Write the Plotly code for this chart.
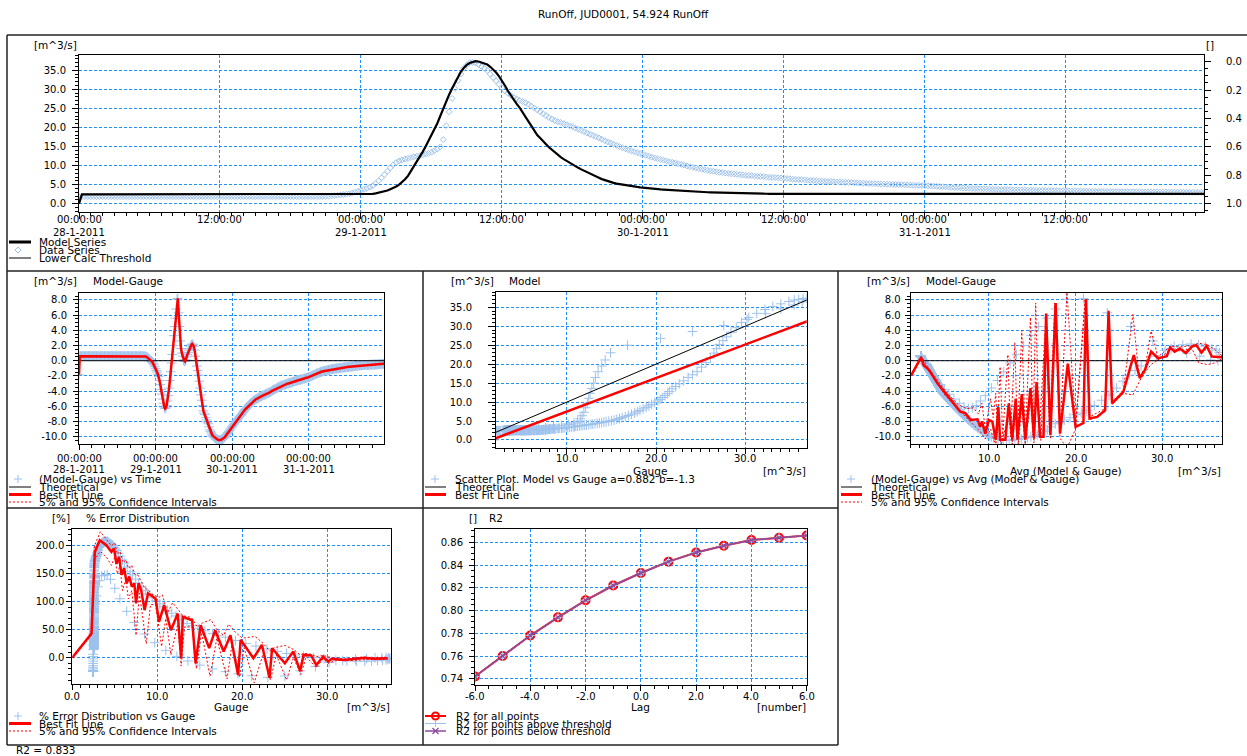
import pandas as pd
import plotly.graph_objects as go

W, H = 1247, 756
FONT = "DejaVu Sans"
TICK_SIZE = 10
LABEL_SIZE = 10.5
GRID = "#1E90FF"
LB = "#9EC2EC"
RED = "#FF0000"
PURPLE = "#8B4A9C"

title_text = "RunOff, JUD0001, 54.924 RunOff"

# ---------------- data (15-minute steps from 28-1-2011 00:00) ----------------
gauge_day1 = [
    1.85, 1.85, 1.85, 1.85, 1.85, 1.85, 1.85, 1.85, 1.85, 1.85, 1.85, 1.85, 1.85, 1.85, 1.85, 1.85,
    1.85, 1.85, 1.85, 1.85, 1.85, 1.85, 1.85, 1.85, 1.85, 1.85, 1.85, 1.85, 1.85, 1.85, 1.85, 1.85,
    1.85, 1.85, 1.85, 1.85, 1.85, 1.85, 1.85, 1.85, 1.85, 1.85, 1.85, 1.85, 1.85, 1.85, 1.85, 1.85,
    1.85, 1.85, 1.85, 1.85, 1.85, 1.85, 1.85, 1.85, 1.85, 1.85, 1.85, 1.85, 1.85, 1.85, 1.85, 1.85,
    1.85, 1.85, 1.85, 1.85, 1.85, 1.85, 1.85, 1.85, 1.85, 1.85, 1.85, 1.85, 1.85, 1.85, 1.85, 1.85,
    1.85, 1.86, 1.87, 1.88, 1.9, 1.96, 2.03, 2.1, 2.2, 2.3, 2.4, 2.5, 2.6, 2.8, 3.0, 3.25,
]
gauge_day2 = [
    3.5, 3.75, 4.0, 4.35, 4.7, 5.3, 6.0, 6.8, 7.6, 8.5, 9.4, 10.2,
    10.8, 11.2, 11.5, 11.7, 11.9, 12.1, 12.3, 12.45, 12.6, 12.8, 13.0, 13.2,
    13.5, 13.9, 14.3, 14.9, 16.8, 20.5, 24.1, 27.6, 30.2, 32.3, 34.0, 35.5,
    36.4, 37.0, 37.1, 36.9, 36.5, 36.0, 35.5, 34.9, 34.0, 33.1, 32.2, 31.3,
    30.4, 29.6, 29.0, 28.4, 27.9, 27.5, 27.1, 26.8, 26.5, 26.1, 25.6, 25.1,
    24.6, 24.1, 23.6, 23.1, 22.6, 22.2, 21.8, 21.5, 21.3, 21.0, 20.7, 20.45,
    20.2, 19.85, 19.5, 19.2, 18.9, 18.55, 18.2, 17.9, 17.6, 17.25, 16.9, 16.55,
    16.2, 15.9, 15.6, 15.3, 15.0, 14.7, 14.4, 14.15, 13.9, 13.65, 13.4, 13.15,
]
gauge_day3 = [
    12.9, 12.7, 12.45, 12.2, 12.0, 11.8, 11.6, 11.4, 11.2, 11.0, 10.85, 10.7,
    10.5, 10.3, 10.1, 9.9, 9.7, 9.55, 9.4, 9.2, 9.05, 8.9, 8.75, 8.6,
    8.5, 8.4, 8.25, 8.15, 8.05, 7.95, 7.85, 7.8, 7.7, 7.6, 7.55, 7.45,
    7.4, 7.35, 7.25, 7.2, 7.15, 7.1, 7.0, 6.95, 6.9, 6.85, 6.8, 6.75,
    6.7, 6.6, 6.55, 6.45, 6.4, 6.35, 6.3, 6.25, 6.2, 6.1, 6.05, 6.0,
    5.95, 5.9, 5.85, 5.8, 5.8, 5.75, 5.7, 5.7, 5.65, 5.6, 5.55, 5.55,
    5.5, 5.45, 5.4, 5.4, 5.35, 5.3, 5.25, 5.25, 5.2, 5.15, 5.15, 5.1,
    5.1, 5.05, 5.05, 5.0, 5.0, 4.95, 4.9, 4.9, 4.85, 4.8, 4.8, 4.75,
]
gauge_day4 = [
    4.73, 4.7, 4.65, 4.6, 4.55, 4.5, 4.45, 4.4, 4.35, 4.3, 4.25, 4.2,
    4.17, 4.13, 4.1, 4.05, 4.0, 3.97, 3.95, 3.92, 3.9, 3.87, 3.85, 3.82,
    3.8, 3.77, 3.75, 3.72, 3.7, 3.67, 3.65, 3.62, 3.6, 3.59, 3.58, 3.57,
    3.56, 3.54, 3.53, 3.51, 3.5, 3.48, 3.47, 3.45, 3.43, 3.42, 3.41, 3.4,
    3.39, 3.38, 3.36, 3.34, 3.33, 3.32, 3.31, 3.3, 3.28, 3.27, 3.25, 3.23,
    3.22, 3.21, 3.2, 3.18, 3.17, 3.16, 3.15, 3.14, 3.13, 3.12, 3.12, 3.11,
    3.1, 3.1, 3.09, 3.09, 3.08, 3.08, 3.07, 3.07, 3.06, 3.05, 3.05, 3.04,
    3.04, 3.03, 3.03, 3.02, 3.0, 2.99, 2.98, 2.98, 2.97, 2.96, 2.95, 2.95,
]

model_day1 = [
    0.0, 2.45, 2.45, 2.45, 2.45, 2.45, 2.45, 2.45, 2.45, 2.45, 2.45, 2.45, 2.45, 2.45, 2.45, 2.45,
    2.45, 2.45, 2.45, 2.45, 2.45, 2.45, 2.45, 2.45, 2.45, 2.45, 2.45, 2.45, 2.45, 2.45, 2.45, 2.45,
    2.45, 2.45, 2.45, 2.45, 2.45, 2.45, 2.45, 2.45, 2.45, 2.45, 2.45, 2.45, 2.45, 2.45, 2.45, 2.45,
    2.45, 2.45, 2.45, 2.45, 2.45, 2.45, 2.45, 2.45, 2.45, 2.45, 2.45, 2.45, 2.45, 2.45, 2.45, 2.45,
    2.45, 2.45, 2.45, 2.45, 2.45, 2.45, 2.45, 2.45, 2.45, 2.45, 2.45, 2.45, 2.45, 2.45, 2.45, 2.45,
    2.45, 2.45, 2.45, 2.45, 2.45, 2.45, 2.45, 2.45, 2.45, 2.45, 2.45, 2.45, 2.45, 2.45, 2.45, 2.45,
]
model_day2 = [
    2.45, 2.47, 2.5, 2.55, 2.6, 2.7, 2.85, 3.0, 3.2, 3.45, 3.8, 4.1,
    4.5, 5.0, 5.6, 6.4, 7.3, 8.5, 9.7, 11.0, 12.3, 13.6, 15.0, 16.5,
    18.0, 19.5, 21.1, 23.0, 25.0, 26.8, 28.6, 30.2, 31.8, 33.3, 34.6, 35.6,
    36.4, 36.9, 37.2, 37.4, 37.3, 37.1, 36.9, 36.5, 35.9, 35.2, 34.4, 33.4,
    32.3, 31.0, 29.6, 28.4, 27.2, 26.2, 25.2, 24.1, 22.9, 21.6, 20.4, 19.2,
    18.0, 17.2, 16.5, 15.6, 14.8, 14.1, 13.5, 12.8, 12.2, 11.7, 11.2, 10.7,
    10.3, 9.85, 9.4, 9.0, 8.6, 8.2, 7.8, 7.45, 7.1, 6.8, 6.45, 6.15,
    5.9, 5.65, 5.45, 5.25, 5.1, 4.95, 4.8, 4.7, 4.6, 4.5, 4.4, 4.3,
]
model_day3 = [
    4.2, 4.12, 4.05, 3.97, 3.9, 3.84, 3.77, 3.71, 3.65, 3.6, 3.55, 3.5,
    3.45, 3.4, 3.35, 3.3, 3.25, 3.2, 3.15, 3.1, 3.05, 3.03, 3.0, 2.98,
    2.95, 2.93, 2.9, 2.88, 2.85, 2.83, 2.8, 2.78, 2.75, 2.74, 2.72, 2.71,
    2.7, 2.68, 2.66, 2.65, 2.63, 2.62, 2.61, 2.6, 2.6, 2.59, 2.59, 2.58,
    2.57, 2.57, 2.57, 2.57, 2.57, 2.57, 2.57, 2.57, 2.56, 2.56, 2.56, 2.56,
    2.56, 2.56, 2.56, 2.56, 2.56, 2.56, 2.56, 2.56, 2.56, 2.56, 2.56, 2.56,
    2.55, 2.55, 2.55, 2.55, 2.55, 2.55, 2.55, 2.55, 2.55, 2.55, 2.55, 2.55,
    2.55, 2.55, 2.55, 2.55, 2.55, 2.55, 2.55, 2.55, 2.55, 2.55, 2.55, 2.55,
]
model_day4 = [
    2.55, 2.55, 2.55, 2.55, 2.55, 2.55, 2.55, 2.55, 2.55, 2.55, 2.55, 2.55, 2.55, 2.55, 2.55, 2.55,
    2.55, 2.55, 2.55, 2.55, 2.55, 2.55, 2.55, 2.55, 2.55, 2.55, 2.55, 2.55, 2.55, 2.55, 2.55, 2.55,
    2.55, 2.55, 2.55, 2.55, 2.55, 2.55, 2.55, 2.55, 2.55, 2.55, 2.55, 2.55, 2.55, 2.55, 2.55, 2.55,
    2.55, 2.55, 2.55, 2.55, 2.55, 2.55, 2.55, 2.55, 2.55, 2.55, 2.55, 2.55, 2.55, 2.55, 2.55, 2.55,
    2.55, 2.55, 2.55, 2.55, 2.55, 2.55, 2.55, 2.55, 2.55, 2.55, 2.55, 2.55, 2.55, 2.55, 2.55, 2.55,
    2.55, 2.55, 2.55, 2.55, 2.55, 2.55, 2.55, 2.55, 2.55, 2.55, 2.55, 2.55, 2.55, 2.55, 2.55, 2.55,
]

gauge = gauge_day1 + gauge_day2 + gauge_day3 + gauge_day4
model = model_day1 + model_day2 + model_day3 + model_day4
times = pd.date_range("2011-01-28 00:00", periods=len(gauge), freq="15min")

# derived series
diff = [m - g for m, g in zip(model, gauge)]
avg = [(m + g) / 2 for m, g in zip(model, gauge)]
pct_x = [m for m in model if m > 0]
pct_y = [(g - m) / m * 100 for m, g in zip(model, gauge) if m > 0]

# scatter best fit (from legend)
fit_a = 0.882
fit_b = -1.3

# Model-Gauge vs Avg : best fit and confidence lines
mr_fit_x = [1.07, 2.2, 2.5, 3.1, 4.1, 5.0, 6.0, 6.7, 7.3, 7.9, 8.7, 9.0, 9.2, 9.6, 10.0, 10.4, 10.8, 11.1,
            11.3, 11.9, 12.3, 12.7, 13.1, 13.3, 13.8, 14.2, 14.8, 15.2, 15.5, 15.9, 16.3, 16.6, 17.1, 17.7,
            18.2, 19.1, 20.0, 20.9, 21.2, 21.6, 22.5, 23.4, 23.8, 24.2, 25.5, 26.7, 27.4, 28.0, 28.7, 29.5,
            30.5, 30.9, 31.4, 32.0, 32.7, 33.4, 33.9, 34.5, 35.1, 35.7, 36.9]
mr_fit_y = [-1.9, 0.45, -0.6, -1.2, -3.0, -4.3, -5.6, -6.7, -6.9, -7.8, -7.7, -8.7, -8.0, -9.6, -7.8, -8.0, -10.4, -6.1,
            -10.4, -10.4, -5.6, -10.4, -5.0, -10.4, -4.4, -10.4, -3.6, -10.2, -2.8, -10.0, -10.0, 6.2, -9.8, 7.6,
            -9.6, -0.4, -8.7, -8.2, 8.1, -7.6, -7.4, -6.5, 6.5, -5.6, -4.1, 0.75, -2.3, -1.2, 1.2, 0.3,
            0.6, 1.75, 1.2, 1.6, 1.0, 1.85, 2.05, 1.05, 1.95, 0.55, 0.45]
mr_ci_up_x = [1.07, 2.2, 3.1, 5.0, 6.5, 7.5, 8.2, 8.8, 9.2, 9.6, 10.2, 10.5, 10.8, 11.0, 11.3, 11.6, 12.2, 12.5,
              13.0, 13.3, 13.8, 14.2, 14.8, 15.1, 15.4, 15.8, 16.6, 17.0, 17.6, 18.2, 19.0, 20.0, 21.1, 21.6,
              23.4, 23.8, 24.2, 25.5, 26.6, 27.3, 28.0, 28.7, 29.5, 30.9, 32.0, 33.4, 34.2, 35.2, 36.0, 36.9]
mr_ci_up_y = [-1.8, 0.6, -1.0, -4.0, -5.8, -6.3, -6.2, -7.0, -5.6, -9.0, -5.0, -7.5, -4.3, -9.5, -0.8, -10.0, 0.8, -10.0,
              2.4, -10.0, 4.0, -10.0, 5.7, -9.8, 7.6, -9.8, 6.2, -9.6, 7.6, -9.4, 9.0, -8.5, 8.2, -7.4,
              -6.3, 6.6, -5.4, -3.9, 6.1, -2.0, -1.0, 3.9, 0.5, 1.9, 1.8, 2.0, 2.3, 2.1, 1.5, 0.6]
mr_ci_lo_x = [1.07, 2.2, 3.1, 5.0, 6.5, 7.5, 8.2, 9.0, 9.6, 10.2, 10.8, 11.1, 11.4, 12.3, 12.7, 13.1, 13.4, 13.8,
              14.2, 14.8, 15.2, 15.5, 16.0, 16.6, 17.1, 17.7, 18.2, 19.0, 20.0, 21.1, 21.6, 23.4, 23.8, 24.2,
              25.5, 26.6, 27.4, 28.0, 28.7, 29.5, 30.9, 32.0, 33.4, 34.2, 35.2, 36.0, 36.9]
mr_ci_lo_y = [-2.0, 0.4, -1.4, -4.6, -6.4, -7.5, -8.4, -9.3, -10.3, -9.0, -11.2, -7.5, -11.2, -7.0, -11.0, -6.5, -11.0, -6.0,
              -11.0, -5.0, -10.8, -4.0, -10.5, 6.0, -10.3, 7.4, -10.2, -11.5, -9.0, 7.8, -7.8, -6.7, 6.2, -5.8,
              -4.3, -4.5, -2.6, -1.5, -0.5, 0.1, 1.5, 1.3, 1.6, -0.3, -0.5, -0.3, 0.3]

# % Error distribution : best fit and confidence lines
bl_fit_x = [0.0, 2.26, 2.65, 3.23, 4.0, 4.6, 4.9, 5.2, 5.5, 5.8, 6.1, 6.4, 6.7, 7.0, 7.3, 7.5, 7.8, 8.1, 8.5,
            8.9, 9.5, 9.8, 10.2, 10.8, 11.6, 12.4, 12.8, 13.0, 14.1, 14.5, 15.1, 16.1, 16.8, 17.8, 18.6,
            19.5, 19.8, 21.3, 22.3, 23.2, 23.5, 25.0, 26.0, 26.8, 27.2, 28.1, 28.7, 29.5, 30.1, 30.5, 32.0,
            33.6, 34.4, 35.5, 37.1]
bl_fit_y = [0, 43, 189, 210, 201, 189, 195, 168, 180, 148, 160, 133, 145, 127, 133, 97, 133, 121, 85,
            115, 109, 105, 64, 94, 49, 79, -1, 73, 67, -10, 58, 17, 49, 11, 40,
            -31, 32, -1, 23, -36, 17, -10, 11, -24, 5, 4, -13, 2, -7, -2, -4,
            -2, 0, -2, -1]
bl_ci_up_x = [0.0, 2.26, 2.6, 3.3, 4.0, 4.6, 5.0, 5.3, 5.6, 6.0, 6.3, 6.6, 7.0, 7.3, 7.7, 8.1, 8.5, 9.0, 9.5,
              10.2, 10.6, 11.2, 11.8, 12.5, 13.0, 14.0, 14.7, 15.3, 16.3, 17.0, 17.8, 18.4, 19.2, 20.0, 21.5,
              22.5, 23.2, 23.8, 25.0, 26.0, 26.8, 27.3, 28.1, 28.7, 29.5, 30.5, 32.0, 34.0, 35.5, 37.1]
bl_ci_up_y = [0, 45, 200, 225, 212, 200, 205, 185, 190, 170, 175, 160, 165, 150, 148, 135, 125, 120, 112,
              108, 112, 80, 98, 85, 75, 72, 55, 62, 68, 50, 40, 60, 45, 35, 38,
              25, 12, 18, 22, 15, 5, 8, 6, 2, 4, 0, -2, 1, 0, 1]
bl_ci_lo_x = [0.0, 2.26, 2.6, 3.3, 4.0, 4.6, 5.0, 5.3, 5.6, 5.9, 6.3, 6.6, 7.0, 7.5, 7.9, 8.3, 8.7, 9.2, 9.8,
              10.5, 11.0, 11.6, 12.4, 12.8, 13.2, 14.1, 14.6, 15.2, 16.2, 17.0, 18.2, 18.8, 19.7, 20.2, 21.4,
              22.5, 23.3, 24.0, 25.2, 26.0, 26.9, 27.5, 28.7, 29.5, 30.1, 31.0, 33.0, 35.0, 37.1]
bl_ci_lo_y = [0, 40, 175, 190, 180, 165, 180, 150, 165, 120, 140, 105, 120, 40, 115, 70, 25, 95, 95,
              20, 70, 5, 60, -15, 55, 55, -20, 45, -33, 35, -38, 25, -35, 18, -45,
              10, -40, 5, -40, 0, -30, 2, -18, -2, -10, -5, -5, -3, -3]

# R2 vs lag
r2_lag = [-6, -5, -4, -3, -2, -1, 0, 1, 2, 3, 4, 5, 6]
r2_all = [0.742, 0.760, 0.778, 0.794, 0.809, 0.822, 0.833, 0.843, 0.851, 0.857, 0.862, 0.864, 0.866]
r2_above = [0.742, 0.760, 0.778, 0.794, 0.809, 0.822, 0.833, 0.843, 0.851, 0.857, 0.862, 0.864, 0.866]
r2_below = [0.742, 0.760, 0.778, 0.794, 0.809, 0.822, 0.833, 0.843, 0.851, 0.857, 0.862, 0.864, 0.866]

# tick labels
top_tickvals = ["2011-01-28 00:00", "2011-01-28 12:00", "2011-01-29 00:00", "2011-01-29 12:00",
                "2011-01-30 00:00", "2011-01-30 12:00", "2011-01-31 00:00", "2011-01-31 12:00"]
top_tick_time = ["00:00:00", "12:00:00", "00:00:00", "12:00:00", "00:00:00", "12:00:00", "00:00:00", "12:00:00"]
top_tick_date = ["28-1-2011", "", "29-1-2011", "", "30-1-2011", "", "31-1-2011", ""]
day_tickvals = ["2011-01-28", "2011-01-29", "2011-01-30", "2011-01-31"]
day_tick_time = ["00:00:00", "00:00:00", "00:00:00", "00:00:00"]
day_tick_date = ["28-1-2011", "29-1-2011", "30-1-2011", "31-1-2011"]
frac_tickvals = [0.0, 0.2, 0.4, 0.6, 0.8, 1.0]
frac_ticktext = ["0.0", "0.2", "0.4", "0.6", "0.8", "1.0"]
diff_tickvals = [-10, -8, -6, -4, -2, 0, 2, 4, 6, 8]
diff_ticktext = ["-10.0", "-8.0", "-6.0", "-4.0", "-2.0", "0.0", "2.0", "4.0", "6.0", "8.0"]
flow_tickvals = [10, 20, 30]
flow_ticktext = ["10.0", "20.0", "30.0"]
err_x_tickvals = [0, 10, 20, 30]
err_x_ticktext = ["0.0", "10.0", "20.0", "30.0"]
lag_tickvals = [-6, -4, -2, 0, 2, 4, 6]
lag_ticktext = ["-6.0", "-4.0", "-2.0", "0.0", "2.0", "4.0", "6.0"]

# ---------------- helpers ----------------
def dx(a, b):
    return [a / W, b / W]

def dy(top, bottom):
    return [1 - bottom / H, 1 - top / H]

def axis(**kw):
    base = dict(showline=True, linecolor="black", linewidth=1, mirror=True, ticks="outside",
                ticklen=5, tickwidth=1, tickcolor="black", showgrid=True, gridcolor=GRID,
                griddash="3px,2px", gridwidth=1, zeroline=False, fixedrange=True, automargin=False,
                tickfont=dict(family=FONT, size=TICK_SIZE, color="black"))
    base.update(kw)
    return base

def minor(dtick, tick0=0, ln=3):
    return dict(ticks="outside", ticklen=ln, tickcolor="black", tickwidth=1, showgrid=False,
                tickmode="linear", dtick=dtick, tick0=tick0)

shapes = []
annotations = []

def seg(x0, y0, x1, y1, color="black", width=1, dash="solid"):
    shapes.append(dict(type="line", xref="paper", yref="paper", x0=x0 / W, x1=x1 / W,
                       y0=1 - y0 / H, y1=1 - y1 / H, line=dict(color=color, width=width, dash=dash)))

def plus_glyph(cx, cy, r, color):
    seg(cx - r, cy, cx + r, cy, color, 1)
    seg(cx, cy - r, cx, cy + r, color, 1)

def x_glyph(cx, cy, r, color):
    seg(cx - r, cy - r, cx + r, cy + r, color, 1.2)
    seg(cx - r, cy + r, cx + r, cy - r, color, 1.2)

def diamond_glyph(cx, cy, r, color):
    pts = [(cx, cy - r), (cx + r, cy), (cx, cy + r), (cx - r, cy)]
    p = "M " + " L ".join(f"{x / W:.5f},{1 - y / H:.5f}" for x, y in pts) + " Z"
    shapes.append(dict(type="path", xref="paper", yref="paper", path=p, line=dict(color=color, width=1)))

def circle_glyph(cx, cy, r, color):
    shapes.append(dict(type="circle", xref="paper", yref="paper", x0=(cx - r) / W, x1=(cx + r) / W,
                       y0=1 - (cy + r) / H, y1=1 - (cy - r) / H, line=dict(color=color, width=2)))

def label(x, y, text, anchor="left", size=LABEL_SIZE):
    annotations.append(dict(x=x / W, y=1 - y / H, xref="paper", yref="paper", text=text, showarrow=False,
                            xanchor=anchor, yanchor="middle", borderpad=0,
                            font=dict(family=FONT, size=size, color="black")))

def axis_label(xref, xval, y, text):
    if text:
        annotations.append(dict(x=xval, y=1 - y / H, xref=xref, yref="paper", text=text, showarrow=False,
                                xanchor="center", yanchor="middle", borderpad=0,
                                font=dict(family=FONT, size=TICK_SIZE, color="black")))

fig = go.Figure()

# ---------------- top panel ----------------
fig.add_trace(go.Scatter(x=times, y=gauge, mode="markers", xaxis="x", yaxis="y",
                         marker=dict(symbol="diamond-open", size=4.5, color=LB, line=dict(width=1, color=LB))))
fig.add_trace(go.Scatter(x=times, y=model, mode="lines", xaxis="x", yaxis="y",
                         line=dict(color="black", width=2.2)))
fig.add_trace(go.Scatter(x=[times[0]], y=[None], mode="lines", xaxis="x", yaxis="y2"))

# ---------------- middle-left : Model-Gauge vs time ----------------
fig.add_trace(go.Scatter(x=times, y=diff, mode="markers", xaxis="x3", yaxis="y3",
                         marker=dict(symbol="cross-thin-open", size=7, color=LB, line=dict(width=1, color=LB))))
fig.add_trace(go.Scatter(x=[times[0], times[-1]], y=[0, 0], mode="lines", xaxis="x3", yaxis="y3",
                         line=dict(color="black", width=1)))
fig.add_trace(go.Scatter(x=times, y=diff, mode="lines", xaxis="x3", yaxis="y3",
                         line=dict(color=RED, width=2.5)))

# ---------------- middle-center : scatter model vs gauge ----------------
g_min, g_max = min(gauge), max(gauge)
fig.add_trace(go.Scatter(x=gauge, y=model, mode="markers", xaxis="x4", yaxis="y4",
                         marker=dict(symbol="cross-thin-open", size=7, color=LB, line=dict(width=1, color=LB))))
fig.add_trace(go.Scatter(x=[g_min, g_max], y=[g_min, g_max], mode="lines", xaxis="x4", yaxis="y4",
                         line=dict(color="black", width=1)))
fig.add_trace(go.Scatter(x=[g_min, g_max], y=[fit_a * g_min + fit_b, fit_a * g_max + fit_b], mode="lines",
                         xaxis="x4", yaxis="y4", line=dict(color=RED, width=2.5)))

# ---------------- middle-right : Model-Gauge vs avg ----------------
fig.add_trace(go.Scatter(x=avg, y=diff, mode="markers", xaxis="x5", yaxis="y5",
                         marker=dict(symbol="cross-thin-open", size=7, color=LB, line=dict(width=1, color=LB))))
fig.add_trace(go.Scatter(x=[min(avg), max(avg)], y=[0, 0], mode="lines", xaxis="x5", yaxis="y5",
                         line=dict(color="black", width=1)))
fig.add_trace(go.Scatter(x=mr_ci_up_x, y=mr_ci_up_y, mode="lines", xaxis="x5", yaxis="y5",
                         line=dict(color=RED, width=1, dash="2px,2px")))
fig.add_trace(go.Scatter(x=mr_ci_lo_x, y=mr_ci_lo_y, mode="lines", xaxis="x5", yaxis="y5",
                         line=dict(color=RED, width=1, dash="2px,2px")))
fig.add_trace(go.Scatter(x=mr_fit_x, y=mr_fit_y, mode="lines", xaxis="x5", yaxis="y5",
                         line=dict(color=RED, width=2.5)))

# ---------------- bottom-left : % error ----------------
fig.add_trace(go.Scatter(x=pct_x, y=pct_y, mode="markers", xaxis="x6", yaxis="y6",
                         marker=dict(symbol="cross-thin-open", size=7, color=LB, line=dict(width=1, color=LB))))
fig.add_trace(go.Scatter(x=bl_ci_up_x, y=bl_ci_up_y, mode="lines", xaxis="x6", yaxis="y6",
                         line=dict(color=RED, width=1, dash="2px,2px")))
fig.add_trace(go.Scatter(x=bl_ci_lo_x, y=bl_ci_lo_y, mode="lines", xaxis="x6", yaxis="y6",
                         line=dict(color=RED, width=1, dash="2px,2px")))
fig.add_trace(go.Scatter(x=bl_fit_x, y=bl_fit_y, mode="lines", xaxis="x6", yaxis="y6",
                         line=dict(color=RED, width=2.5)))

# ---------------- bottom-center : R2 ----------------
fig.add_trace(go.Scatter(x=r2_lag, y=r2_all, mode="lines+markers", xaxis="x7", yaxis="y7",
                         line=dict(color=RED, width=2),
                         marker=dict(symbol="circle-open", size=8, color=RED, line=dict(width=2, color=RED))))
fig.add_trace(go.Scatter(x=r2_lag, y=r2_above, mode="lines+markers", xaxis="x7", yaxis="y7",
                         line=dict(color=LB, width=1),
                         marker=dict(symbol="cross-thin-open", size=7, color=LB, line=dict(width=1, color=LB))))
fig.add_trace(go.Scatter(x=r2_lag, y=r2_below, mode="lines+markers", xaxis="x7", yaxis="y7",
                         line=dict(color=PURPLE, width=1.5),
                         marker=dict(symbol="x-thin-open", size=6, color=PURPLE, line=dict(width=1.2, color=PURPLE))))

# ---------------- axes ----------------
t_end = times[-1]
layout_axes = dict(
    xaxis=axis(domain=dx(79, 1204), anchor="y", range=[times[0], t_end], tickmode="array",
               tickvals=top_tickvals, showticklabels=False, ticklen=6,
               minor=minor(3600000, "2011-01-28 00:00")),
    yaxis=axis(domain=dy(55, 212), anchor="x", range=[-2.18, 39.0], tickmode="linear", tick0=0, dtick=5,
               tickformat=".1f", ticklen=6, ticklabelstandoff=4, minor=minor(1)),
    yaxis2=axis(overlaying="y", side="right", anchor="x", range=[1.058, -0.047], tickmode="array",
                tickvals=frac_tickvals, ticktext=frac_ticktext, showgrid=False, mirror=False, ticklen=6,
                ticklabelstandoff=13, minor=minor(0.05)),
    xaxis3=axis(domain=dx(79, 384.3), anchor="y3", range=[times[0], t_end], tickmode="array",
                tickvals=day_tickvals, showticklabels=False,
                minor=minor(14400000, "2011-01-28 00:00")),
    yaxis3=axis(domain=dy(292.7, 444), anchor="x3", range=[-10.96, 8.95], tickmode="array",
                tickvals=diff_tickvals, ticktext=diff_ticktext, ticklabelstandoff=4, minor=minor(0.5)),
    xaxis4=axis(domain=dx(496, 806.7), anchor="y4", range=[2.05, 36.9], tickmode="array",
                tickvals=flow_tickvals, showticklabels=False, minor=minor(1)),
    yaxis4=axis(domain=dy(291.7, 448.3), anchor="x4", range=[-2.19, 39.1], tickmode="linear", tick0=0,
                dtick=5, tickformat=".1f", ticklen=7, ticklabelstandoff=14, minor=minor(1)),
    xaxis5=axis(domain=dx(910.7, 1222.3), anchor="y5", range=[1.0, 36.9], tickmode="array",
                tickvals=flow_tickvals, showticklabels=False, minor=minor(1)),
    yaxis5=axis(domain=dy(292.7, 444), anchor="x5", range=[-10.96, 8.95], tickmode="array",
                tickvals=diff_tickvals, ticktext=diff_ticktext, ticklabelstandoff=2, minor=minor(0.5)),
    xaxis6=axis(domain=dx(72.3, 390.7), anchor="y6", range=[0, 37.45], tickmode="array",
                tickvals=err_x_tickvals, showticklabels=False, minor=minor(1)),
    yaxis6=axis(domain=dy(529, 684), anchor="x6", range=[-47, 230], tickmode="linear", tick0=0, dtick=50,
                tickformat=".1f", minor=minor(10)),
    xaxis7=axis(domain=dx(475, 806.7), anchor="y7", range=[-6, 6], tickmode="array",
                tickvals=lag_tickvals, showticklabels=False, minor=minor(0.5)),
    yaxis7=axis(domain=dy(529, 685), anchor="x7", range=[0.7345, 0.8717], tickmode="linear", tick0=0.74,
                dtick=0.02, tickformat=".2f", ticklabelstandoff=4, minor=minor(0.005, 0.74)),
)

# x tick labels drawn as text at the tick values
for v, tt, dd in zip(top_tickvals, top_tick_time, top_tick_date):
    axis_label("x", v, 220, tt)
    axis_label("x", v, 232, dd)
for v, tt, dd in zip(day_tickvals, day_tick_time, day_tick_date):
    axis_label("x3", v, 459, tt)
    axis_label("x3", v, 469.5, dd)
for v, tt in zip(flow_tickvals, flow_ticktext):
    axis_label("x4", v, 459, tt)
    axis_label("x5", v, 459, tt)
for v, tt in zip(err_x_tickvals, err_x_ticktext):
    axis_label("x6", v, 696, tt)
for v, tt in zip(lag_tickvals, lag_ticktext):
    axis_label("x7", v, 696, tt)

# ---------------- panel frames ----------------
FR = "#222222"
seg(7, 35, 1247, 35, FR, 1.5)
seg(7, 271, 1247, 271, FR, 1.5)
seg(7, 508, 838, 508, FR, 1.5)
seg(7, 745, 838, 745, FR, 1.5)
seg(7, 35, 7, 745, FR, 1.5)
seg(423, 271, 423, 745, FR, 1.5)
seg(838, 271, 838, 745, FR, 1.5)

# ---------------- texts ----------------
label(623, 14, title_text, "center", 10.5)
label(33, 45, "[m^3/s]")
label(1205, 45, "[]")
label(33, 281, "[m^3/s]")
label(92, 281, "Model-Gauge")
label(450, 281, "[m^3/s]")
label(508, 281, "Model")
label(650, 470.5, "Gauge", "center")
label(807, 470.5, "[m^3/s]", "right")
label(866, 281, "[m^3/s]")
label(925, 281, "Model-Gauge")
label(1066, 470.5, "Avg (Model & Gauge)", "center")
label(1222, 470.5, "[m^3/s]", "right")
label(51, 518, "[%]")
label(85, 518, "% Error Distribution")
label(231, 707, "Gauge", "center")
label(391, 707, "[m^3/s]", "right")
label(468, 518, "[]")
label(488, 518, "R2")
label(640, 707, "Lag", "center")
label(807, 707, "[number]", "right")
label(15, 750, "R2 = 0.833")

# ---------------- legends (drawn manually) ----------------
# top
seg(9, 242, 31, 242, "black", 3)
label(38, 242, "Model Series")
diamond_glyph(18, 250, 3, LB)
label(38, 250, "Data Series")
seg(9, 258, 31, 258, "black", 1)
label(38, 258, "Lower Calc Threshold")
# middle-left
plus_glyph(18, 479, 4, LB)
label(38, 479, "(Model-Gauge) vs Time")
seg(9, 487, 31, 487, "black", 1)
label(38, 487, "Theoretical")
seg(9, 494.5, 31, 494.5, RED, 3)
label(38, 494.5, "Best Fit Line")
seg(9, 502, 31, 502, RED, 1, "2px,2px")
label(38, 502, "5% and 95% Confidence Intervals")
# middle-center
plus_glyph(435, 479, 4, LB)
label(454, 479, "Scatter Plot. Model vs Gauge a=0.882 b=-1.3")
seg(425, 487, 446, 487, "black", 1)
label(454, 487, "Theoretical")
seg(425, 494.5, 446, 494.5, RED, 3)
label(454, 494.5, "Best Fit Line")
# middle-right
plus_glyph(851, 479, 4, LB)
label(870, 479, "(Model-Gauge) vs Avg (Model & Gauge)")
seg(841, 487, 862, 487, "black", 1)
label(870, 487, "Theoretical")
seg(841, 494.5, 862, 494.5, RED, 3)
label(870, 494.5, "Best Fit Line")
seg(841, 502, 862, 502, RED, 1, "2px,2px")
label(870, 502, "5% and 95% Confidence Intervals")
# bottom-left
plus_glyph(18, 716, 4, LB)
label(38, 716, "% Error Distribution vs Gauge")
seg(9, 723.5, 31, 723.5, RED, 3)
label(38, 723.5, "Best Fit Line")
seg(9, 731, 31, 731, RED, 1, "2px,2px")
label(38, 731, "5% and 95% Confidence Intervals")
# bottom-center
seg(425, 716, 446, 716, RED, 2)
circle_glyph(435.5, 716, 3.5, RED)
label(455, 716, "R2 for all points")
seg(425, 723.5, 446, 723.5, LB, 1)
plus_glyph(435.5, 723.5, 3.5, LB)
label(455, 723.5, "R2 for points above threshold")
seg(425, 731, 446, 731, PURPLE, 1.5)
x_glyph(435.5, 731, 3, PURPLE)
label(455, 731, "R2 for points below threshold")

fig.update_layout(
    width=W, height=H, autosize=False,
    margin=dict(l=0, r=0, t=0, b=0, autoexpand=False),
    paper_bgcolor="white", plot_bgcolor="white",
    showlegend=False, hovermode=False,
    shapes=shapes, annotations=annotations,
    **layout_axes,
)

fig.write_html("out.html", config={"displayModeBar": False},
               post_script="document.body.style.margin='0';")
